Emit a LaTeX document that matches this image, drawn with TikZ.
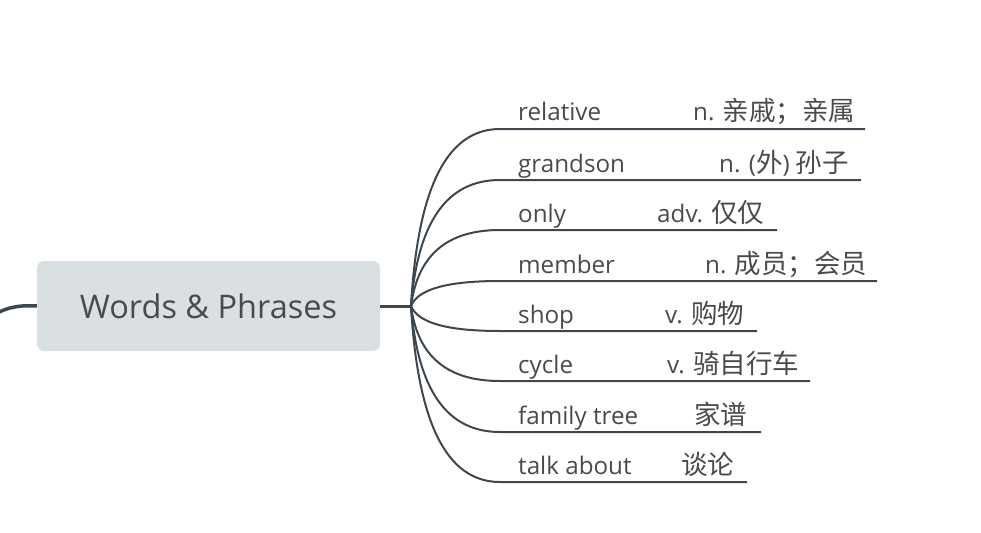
\documentclass[tikz,border=0pt]{standalone}
\usepackage{fontspec}
\setmainfont{Open Sans}
\newfontfamily\cjk{Noto Sans CJK SC}
\definecolor{linec}{HTML}{3E4650}
\definecolor{textc}{HTML}{4A4A4A}
\definecolor{boxfill}{HTML}{DAE0E2}
\tikzset{
  central/.style={draw=none, fill=boxfill, rounded corners=7pt, minimum width=343pt, minimum height=90pt, text=textc, font=\fontsize{32.5}{32.5}\selectfont, inner sep=0pt},
  word/.style={anchor=base west, text=textc, font=\fontsize{24.2}{24.2}\selectfont, inner sep=0pt},
  mean/.style={anchor=base west, text=textc, font=\fontsize{24.2}{24.2}\selectfont, inner sep=0pt},
  branch/.style={draw=linec, line width=2pt},
  stub/.style={draw=linec, line width=3pt},
}
\newcommand{\zh}[1]{{\cjk\fontsize{26.5}{26.5}\selectfont #1}}
\begin{document}
\begin{tikzpicture}[x=1pt, y=-1pt]
\useasboundingbox (0,0) rectangle (981,532);
\node[central] (root) at (208.5,306) {Words \& Phrases};
\coordinate (hub) at (411,306);
\coordinate (off) at (-12,318);
\draw[stub, line width=3.5pt] (root.west) .. controls (18,305) and (6,307) .. (off);
\draw[stub] (root.east |- hub) -- (hub);
% rows: y of underline, end x, word, meaning x, meaning
\foreach \i/\y/\ex/\w/\mx/\m in {
  1/129/865/relative/693/{n. \zh{亲戚；亲属}},
  2/180/861/grandson/719/{n. (\zh{外}) \zh{孙子}},
  3/230/777/only/657/{adv. \zh{仅仅}},
  4/281/877/member/705/{n. \zh{成员；会员}},
  5/331/757/shop/665/{v. \zh{购物}},
  6/381/810/cycle/667/{v. \zh{骑自行车}},
  7/432/761/family tree/694/{\zh{家谱}},
  8/482/747/talk about/681/{\zh{谈论}}}{
  \coordinate (s\i) at (500,\y);
  \coordinate (e\i) at (\ex,\y);
  \coordinate (q\i) at (417.7,{306+2/3*(\y-306)});
  \coordinate (r\i) at (446.7,\y);
  \node[word] (w\i) at (518,\y-8) {\w};
  \node[mean] (m\i) at (\mx,\y-8) {\m};
  \draw[branch] (hub) .. controls (q\i) and (r\i) .. (s\i) -- (e\i);
}
\end{tikzpicture}
\end{document}
